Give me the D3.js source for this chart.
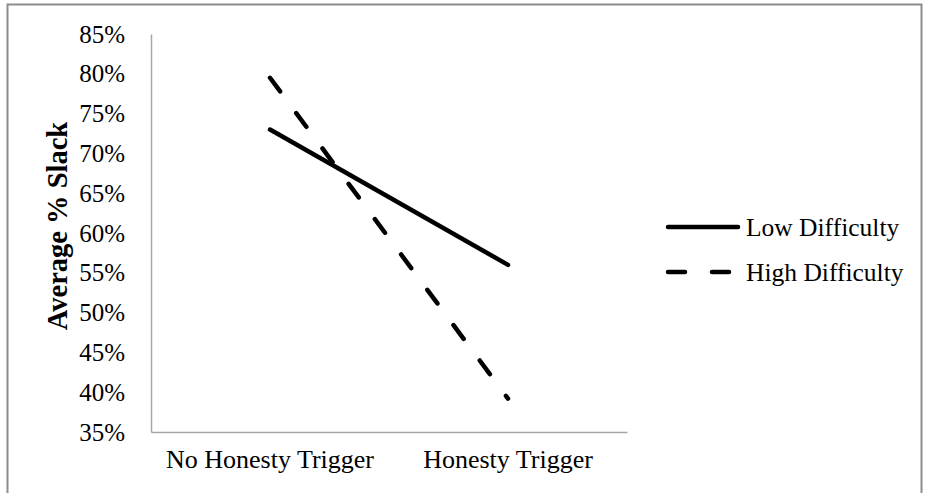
<!DOCTYPE html>
<html>
<head>
<meta charset="utf-8">
<script src="https://cdn.jsdelivr.net/npm/d3@7"></script>
<style>
  html, body { margin: 0; padding: 0; background: #fff; }
  svg { display: block; }
  text { font-family: "Liberation Serif", "Times New Roman", serif; fill: #000; }
</style>
</head>
<body>
<svg id="chart" width="925" height="493"></svg>
<script>
const categories = ["No Honesty Trigger", "Honesty Trigger"];
const seriesNames = ["Low Difficulty", "High Difficulty"];
const lowDifficulty = [0.73, 0.56];
const highDifficulty = [0.795, 0.392];
const yTicks = [0.35, 0.40, 0.45, 0.50, 0.55, 0.60, 0.65, 0.70, 0.75, 0.80, 0.85];

const svg = d3.select("#chart");
const W = 925, H = 493;
const plot = { left: 151, right: 627, top: 34, bottom: 432 };

// outer border
svg.append("path")
  .attr("d", `M7.5,${H + 5} L7.5,4.5 L921.5,4.5 L921.5,${H + 5}`)
  .attr("fill", "none").attr("stroke", "#8c8c8c").attr("stroke-width", 2);

const x = d3.scaleBand().domain(categories).range([plot.left, plot.right]);
const y = d3.scaleLinear().domain([0.35, 0.85]).range([plot.bottom, plot.top]);
const cx = c => x(c) + x.bandwidth() / 2;

// y axis
const yAxis = d3.axisLeft(y).tickValues(yTicks).tickSize(0).tickPadding(26)
  .tickFormat(d3.format(".0%"));
const gy = svg.append("g").attr("transform", `translate(${plot.left},0)`).call(yAxis);
gy.select(".domain").attr("stroke", "#a6a6a6").attr("stroke-width", 1.5);
gy.selectAll("text").style("font-size", "25px").style("font-family", "Liberation Serif");

// x axis
const xAxis = d3.axisBottom(x).tickSize(0).tickPadding(18);
const gx = svg.append("g").attr("transform", `translate(0,${plot.bottom})`).call(xAxis);
gx.select(".domain").attr("stroke", "#a6a6a6").attr("stroke-width", 1.5);
gx.selectAll("text").style("font-size", "26px").style("font-family", "Liberation Serif");

// y title
svg.append("text")
  .attr("transform", `translate(67,226) rotate(-90)`)
  .attr("text-anchor", "middle")
  .style("font-size", "28.5px").style("font-weight", "bold")
  .text("Average % Slack");

const line = d3.line().x((d, i) => cx(categories[i])).y(d => y(d));

svg.append("path").datum(lowDifficulty)
  .attr("d", line).attr("fill", "none").attr("stroke", "#000")
  .attr("stroke-width", 4.5).attr("stroke-linecap", "round");

svg.append("path").datum(highDifficulty)
  .attr("d", line).attr("fill", "none").attr("stroke", "#000")
  .attr("stroke-width", 4.5).attr("stroke-linecap", "round")
  .attr("stroke-dasharray", "17,27");

// legend
const legend = svg.append("g");
const legendY = [227, 272];
seriesNames.forEach((name, i) => {
  legend.append("line")
    .attr("x1", 668).attr("x2", 738).attr("y1", legendY[i]).attr("y2", legendY[i])
    .attr("stroke", "#000").attr("stroke-width", 4.5).attr("stroke-linecap", "round")
    .attr("stroke-dasharray", i === 1 ? "17,27" : null);
  legend.append("text")
    .attr("x", 746).attr("y", legendY[i]).attr("dy", "0.35em")
    .style("font-size", "25.5px")
    .text(name);
});
</script>
</body>
</html>
